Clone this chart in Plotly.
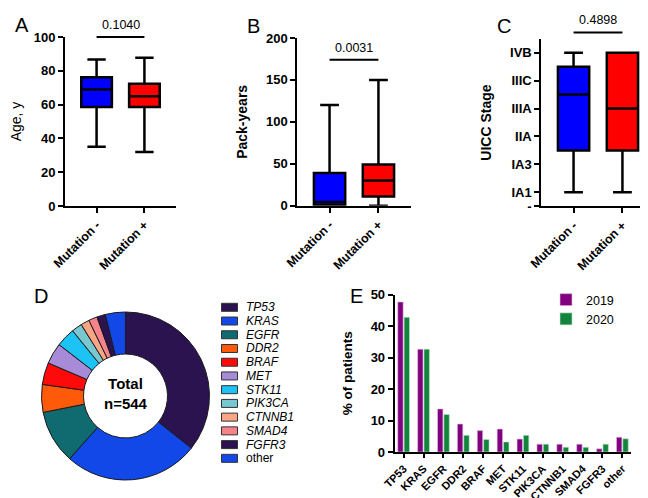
import plotly.graph_objects as go

W, H = 648, 498
FONT = "Arial, Liberation Sans, sans-serif"

# ---- data ----
groups = ["Mutation -", "Mutation +"]
group_colors = ["#0000ff", "#ff0000"]

# A: age
age_low = [35, 32]
age_q1 = [58.6, 58.6]
age_med = [69, 65]
age_q3 = [76.2, 72.3]
age_high = [86.7, 87.7]
age_p = "0.1040"
age_bar = 100

# B: pack-years
pack_low = [0, 0]
pack_q1 = [0.8, 11]
pack_med = [4.5, 30]
pack_q3 = [39, 49]
pack_high = [120, 150]
pack_p = "0.0031"
pack_bar = 174

# C: UICC stage (1 = IA1 ... 11 = IVB)
stage_low = [1, 1]
stage_q1 = [4, 4]
stage_med = [8, 7]
stage_q3 = [10, 11]
stage_high = [11, 11]
stage_p = "0.4898"
stage_bar = 12.45
stage_tickvals = [0, 1, 3, 5, 7, 9, 11]
stage_ticktext = ["-", "IA1", "IA3", "IIA", "IIIA", "IIIC", "IVB"]

# D: mutation share
genes = ["TP53", "KRAS", "EGFR", "DDR2", "BRAF", "MET", "STK11", "PIK3CA",
         "CTNNB1", "SMAD4", "FGFR3", "other"]
gene_counts = [194, 141, 56, 29, 23, 22, 20, 11, 9, 9, 9, 21]
gene_colors = ["#2b1350", "#1248e8", "#106b70", "#ff5a0a", "#ff0a0a", "#a78ad8",
               "#1ec3f5", "#79c7cf", "#f9a586", "#f7848a", "#2b1350", "#1248e8"]
total_n = 544

# E: % of patients
pct_2019 = [47.7, 32.7, 13.7, 8.9, 6.8, 7.3, 4.1, 2.5, 2.5, 2.5, 1.0, 4.7]
pct_2020 = [42.8, 32.7, 11.9, 5.3, 4.0, 3.2, 5.3, 2.5, 1.5, 1.5, 2.5, 4.2]


def px_x(a, b):
    return [a / W, b / W]


def px_y(top, bottom):
    return [1 - bottom / H, 1 - top / H]


dom = {
    "A": (px_x(57, 168), px_y(29, 198)),
    "B": (px_x(289.3, 402.7), px_y(30, 197.7)),
    "C": (px_x(533.3, 646.7), px_y(30.7, 198.3)),
    "E": (px_x(386.7, 623.3), px_y(286.7, 444)),
}
cat_range = [-0.66, 1.66]

fig = go.Figure()

box_sets = [
    ("x", "y", age_low, age_q1, age_med, age_q3, age_high),
    ("x2", "y2", pack_low, pack_q1, pack_med, pack_q3, pack_high),
    ("x3", "y3", stage_low, stage_q1, stage_med, stage_q3, stage_high),
]
for xa, ya, lo, q1, md, q3, hi in box_sets:
    for i, g in enumerate(groups):
        fig.add_trace(go.Box(
            x=[g], lowerfence=[lo[i]], q1=[q1[i]], median=[md[i]], q3=[q3[i]],
            upperfence=[hi[i]], fillcolor=group_colors[i],
            line=dict(color="black", width=2.5), width=0.64, whiskerwidth=0.6,
            xaxis=xa, yaxis=ya, showlegend=False, hoverinfo="skip"))

fig.add_trace(go.Pie(
    labels=genes, values=gene_counts, sort=False, direction="clockwise",
    hole=0.5, marker=dict(colors=gene_colors, line=dict(color="#1a1a1a", width=1)),
    textinfo="none", showlegend=False, hoverinfo="label+value",
    domain=dict(x=px_x(33.5, 201.5), y=px_y(304, 472))))

fig.add_trace(go.Bar(x=genes, y=pct_2019, name="2019", marker_color="#800080",
                     marker_line=dict(color="#e3c3e3", width=0.6), xaxis="x4", yaxis="y4"))
fig.add_trace(go.Bar(x=genes, y=pct_2020, name="2020", marker_color="#13843c",
                     marker_line=dict(color="#c3e3cc", width=0.6), xaxis="x4", yaxis="y4"))

axis_common = dict(showline=True, linecolor="black", linewidth=2, ticks="outside",
                   ticklen=5, tickwidth=2, tickcolor="black", showgrid=False,
                   zeroline=False, automargin=False)
tick_bold = dict(family=FONT, size=13, color="black", weight="bold")


def cat_axis(d):
    return dict(axis_common, domain=d, type="category", range=cat_range,
                tickangle=-45, tickfont=dict(tick_bold, size=12.5))


fig.update_layout(
    xaxis=cat_axis(dom["A"][0]),
    yaxis=dict(axis_common, domain=dom["A"][1], range=[0, 100], dtick=20, tickfont=tick_bold,
               title=dict(text="Age, y", font=dict(family=FONT, size=14, color="black"))),
    xaxis2=dict(cat_axis(dom["B"][0]), anchor="y2"),
    yaxis2=dict(axis_common, domain=dom["B"][1], range=[0, 200], dtick=50, tickfont=tick_bold,
                anchor="x2",
                title=dict(text="Pack-years", font=dict(tick_bold, size=14))),
    xaxis3=dict(cat_axis(dom["C"][0]), anchor="y3"),
    yaxis3=dict(axis_common, domain=dom["C"][1], range=[0, 12], tickvals=stage_tickvals,
                ticktext=stage_ticktext, tickfont=tick_bold, anchor="x3",
                title=dict(text="UICC Stage", font=dict(tick_bold, size=14))),
    xaxis4=dict(axis_common, domain=dom["E"][0], anchor="y4", type="category",
                range=[-0.45, 11.45], tickangle=-45, tickfont=dict(tick_bold, size=11),
                ticklen=4),
    yaxis4=dict(axis_common, domain=dom["E"][1], anchor="x4", range=[0, 50], dtick=10,
                tickfont=tick_bold,
                title=dict(text="% of patients", font=dict(tick_bold, size=13.5))),
    barmode="group", bargap=0.36, bargroupgap=0.15,
    legend=dict(x=538 / W, y=1 - 277 / H, xanchor="left", yanchor="top",
                font=dict(family=FONT, size=12.5, color="black"), bgcolor="rgba(0,0,0,0)"),
    width=W, height=H, margin=dict(l=0, r=0, t=0, b=0),
    paper_bgcolor="white", plot_bgcolor="white",
    font=dict(family=FONT, color="black"),
)


def to_paper(d, rng, v):
    return d[0] + (v - rng[0]) / (rng[1] - rng[0]) * (d[1] - d[0])


shapes = []
annotations = []
pvals = [("A", [0, 100], age_bar, age_p), ("B", [0, 200], pack_bar, pack_p),
         ("C", [0, 12], stage_bar, stage_p)]
for key, rng, ybar, ptxt in pvals:
    dx, dy = dom[key]
    x0 = to_paper(dx, cat_range, 0)
    x1 = to_paper(dx, cat_range, 1)
    yb = to_paper(dy, rng, ybar)
    shapes.append(dict(type="line", xref="paper", yref="paper", x0=x0, x1=x1, y0=yb, y1=yb,
                       line=dict(color="black", width=2)))
    annotations.append(dict(xref="paper", yref="paper", x=(x0 + x1) / 2, y=yb, yshift=3,
                            text=ptxt, showarrow=False, xanchor="center", yanchor="bottom",
                            font=dict(family=FONT, size=12.5, color="black")))

# panel letters
for letter, lx, ly in [("A", 14, 17), ("B", 245, 18), ("C", 496, 18), ("D", 33, 288), ("E", 348, 288)]:
    annotations.append(dict(xref="paper", yref="paper", x=lx / W, y=1 - ly / H, text=letter,
                            showarrow=False, xanchor="center", yanchor="middle",
                            font=dict(family=FONT, size=20, color="black")))

# donut centre text
annotations.append(dict(xref="paper", yref="paper", x=117.5 / W, y=1 - 385 / H,
                        xanchor="center", yanchor="middle",
                        text="Total<br>n=%d" % total_n, showarrow=False,
                        font=dict(tick_bold, size=15)))

# donut legend
for i, g in enumerate(genes):
    cy = 299.3 + i * 13.73
    shapes.append(dict(type="rect", xref="paper", yref="paper",
                       x0=213.5 / W, x1=229.5 / W, y0=1 - (cy + 4) / H, y1=1 - (cy - 4) / H,
                       fillcolor=gene_colors[i], line=dict(color="#333333", width=1)))
    label = g if g == "other" else "<i>%s</i>" % g
    annotations.append(dict(xref="paper", yref="paper", x=236 / W, y=1 - cy / H, text=label,
                            showarrow=False, xanchor="left", yanchor="middle",
                            font=dict(family=FONT, size=12, color="black")))

fig.update_layout(shapes=shapes, annotations=annotations)

fig.write_html("out.html")
